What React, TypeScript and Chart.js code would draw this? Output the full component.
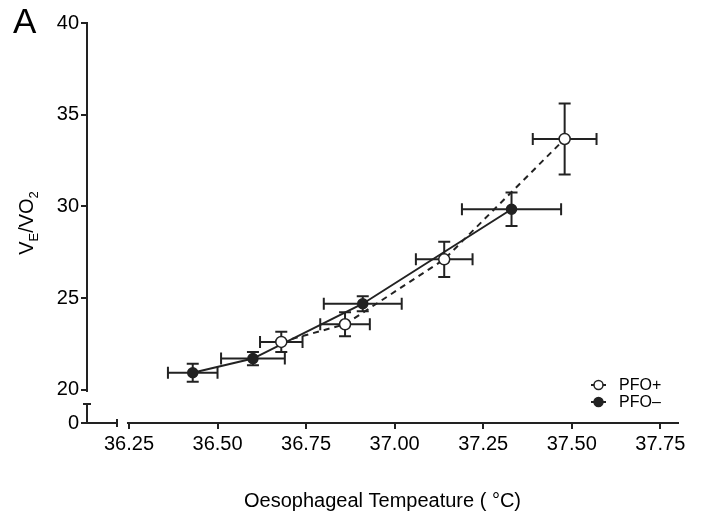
import React, { useEffect, useRef } from "react";
import { Chart, registerables } from "chart.js";

Chart.register(...registerables);

// ---- data ----
const xTicks = [36.25, 36.5, 36.75, 37.0, 37.25, 37.5, 37.75];
const yTicks = [20, 25, 30, 35, 40];
const yBreakValue = 18.2; // position shown as "0" below the axis break
const xMin = 36.1315;
const xMax = 37.8;

const pfoPlusX = [36.68, 36.86, 37.14, 37.48];
const pfoPlusY = [22.62, 23.58, 27.12, 33.68];
const pfoPlusXErr = [0.06, 0.07, 0.08, 0.09];
const pfoPlusYErr = [0.55, 0.65, 0.96, 1.93];

const pfoMinusX = [36.43, 36.6, 36.91, 37.33];
const pfoMinusY = [20.94, 21.71, 24.7, 29.85];
const pfoMinusXErr = [0.07, 0.09, 0.11, 0.14];
const pfoMinusYErr = [0.49, 0.36, 0.41, 0.91];

const INK = "#222222";
const FONT = "'Liberation Sans', Arial, Helvetica, sans-serif";

const toPts = (xs: number[], ys: number[]) => xs.map((x, i) => ({ x, y: ys[i] }));

const errorBarPlugin = {
  id: "errorBars",
  beforeDatasetsDraw(chart: any) {
    const { ctx, scales } = chart;
    const xs = scales.x;
    const ys = scales.y;
    const cap = 6;
    const groups = [
      [pfoPlusX, pfoPlusY, pfoPlusXErr, pfoPlusYErr],
      [pfoMinusX, pfoMinusY, pfoMinusXErr, pfoMinusYErr],
    ];
    ctx.save();
    ctx.strokeStyle = INK;
    ctx.lineWidth = 2;
    ctx.setLineDash([]);
    for (const [gx, gy, ex, ey] of groups) {
      gx.forEach((xv: number, i: number) => {
        const yv = gy[i];
        const px = xs.getPixelForValue(xv);
        const py = ys.getPixelForValue(yv);
        const x1 = xs.getPixelForValue(xv - ex[i]);
        const x2 = xs.getPixelForValue(xv + ex[i]);
        const y1 = ys.getPixelForValue(yv - ey[i]);
        const y2 = ys.getPixelForValue(yv + ey[i]);
        ctx.beginPath();
        ctx.moveTo(x1, py);
        ctx.lineTo(x2, py);
        ctx.moveTo(x1, py - cap);
        ctx.lineTo(x1, py + cap);
        ctx.moveTo(x2, py - cap);
        ctx.lineTo(x2, py + cap);
        ctx.moveTo(px, y1);
        ctx.lineTo(px, y2);
        ctx.moveTo(px - cap, y1);
        ctx.lineTo(px + cap, y1);
        ctx.moveTo(px - cap, y2);
        ctx.lineTo(px + cap, y2);
        ctx.stroke();
      });
    }
    ctx.restore();
  },
};

const decorPlugin = {
  id: "decor",
  afterDraw(chart: any) {
    const { ctx, scales, chartArea } = chart;
    const xs = scales.x;
    const ys = scales.y;
    const left = chartArea.left;
    const bottom = chartArea.bottom;
    const y20 = ys.getPixelForValue(20);
    const x3625 = xs.getPixelForValue(36.25);
    ctx.save();
    // axis breaks
    ctx.fillStyle = "#ffffff";
    ctx.fillRect(left - 4, y20 + 2, 8, bottom - 19 - (y20 + 2));
    ctx.fillRect(left + 31, bottom - 4, x3625 - 2 - (left + 31), 8);
    ctx.strokeStyle = INK;
    ctx.lineWidth = 2;
    ctx.beginPath();
    ctx.moveTo(left - 4, bottom - 19);
    ctx.lineTo(left + 4, bottom - 19);
    ctx.moveTo(left + 30, bottom - 4);
    ctx.lineTo(left + 30, bottom + 4);
    ctx.stroke();

    // panel letter
    ctx.fillStyle = "#000";
    ctx.textAlign = "left";
    ctx.textBaseline = "alphabetic";
    ctx.font = `35px ${FONT}`;
    ctx.fillText("A", 13, 33);

    // x title
    ctx.font = `20px ${FONT}`;
    ctx.textAlign = "center";
    ctx.fillText("Oesophageal Tempeature ( °C)", (chartArea.left + chartArea.right) / 2, 507);

    // y title with subscripts
    const cy = (chartArea.top + chartArea.bottom) / 2;
    ctx.translate(33, cy);
    ctx.rotate(-Math.PI / 2);
    const parts: [string, boolean][] = [
      ["V", false],
      ["E", true],
      ["/VO", false],
      ["2", true],
    ];
    const big = `20px ${FONT}`;
    const small = `13px ${FONT}`;
    let total = 0;
    for (const [t, sub] of parts) {
      ctx.font = sub ? small : big;
      total += ctx.measureText(t).width;
    }
    let cx = -total / 2;
    ctx.textAlign = "left";
    for (const [t, sub] of parts) {
      ctx.font = sub ? small : big;
      ctx.fillText(t, cx, sub ? 5 : 0);
      cx += ctx.measureText(t).width;
    }
    ctx.setTransform(1, 0, 0, 1, 0, 0);

    // legend
    const items: [string, boolean, number][] = [
      ["PFO+", false, 385],
      ["PFO\u2013", true, 402],
    ];
    for (const [label, filled, y] of items) {
      ctx.strokeStyle = INK;
      ctx.lineWidth = 2;
      ctx.beginPath();
      ctx.moveTo(591, y);
      ctx.lineTo(606, y);
      ctx.stroke();
      ctx.beginPath();
      ctx.arc(598.5, y, 4.5, 0, Math.PI * 2);
      ctx.fillStyle = filled ? INK : "#fff";
      ctx.fill();
      ctx.lineWidth = 1.5;
      ctx.stroke();
      ctx.fillStyle = "#000";
      ctx.font = `16px ${FONT}`;
      ctx.textAlign = "left";
      ctx.textBaseline = "middle";
      ctx.fillText(label, 619, y + 1);
    }
    ctx.restore();
  },
};

export default function App() {
  const ref = useRef<HTMLCanvasElement | null>(null);
  useEffect(() => {
    document.body.style.margin = "0";
    if (!ref.current) return;
    const chart = new Chart(ref.current, {
      type: "line",
      data: {
        datasets: [
          {
            label: "PFO+",
            data: toPts(pfoPlusX, pfoPlusY),
            borderColor: INK,
            borderWidth: 2,
            borderDash: [6, 5],
            pointRadius: 5.5,
            pointBorderWidth: 1.5,
            pointBackgroundColor: "#ffffff",
            pointBorderColor: INK,
            tension: 0,
            fill: false,
          },
          {
            label: "PFO\u2013",
            data: toPts(pfoMinusX, pfoMinusY),
            borderColor: INK,
            borderWidth: 2,
            pointRadius: 5,
            pointBorderWidth: 1.5,
            pointBackgroundColor: INK,
            pointBorderColor: INK,
            tension: 0,
            fill: false,
          },
        ],
      },
      options: {
        responsive: false,
        animation: false,
        layout: { padding: { left: 0, top: 23, right: 30, bottom: 0 } },
        plugins: { legend: { display: false }, tooltip: { enabled: false } },
        scales: {
          x: {
            type: "linear",
            min: xMin,
            max: xMax,
            afterBuildTicks: (s: any) => {
              s.ticks = xTicks.map((v) => ({ value: v }));
            },
            afterFit: (s: any) => {
              s.height = 96;
            },
            ticks: {
              callback: (v: any) => Number(v).toFixed(2),
              color: "#000",
              font: { family: FONT, size: 20 },
              padding: 3,
              maxRotation: 0,
              autoSkip: false,
            },
            grid: { drawOnChartArea: false, drawTicks: true, tickLength: 6, color: INK, lineWidth: 2 },
            border: { display: true, color: INK, width: 2 },
          },
          y: {
            type: "linear",
            min: yBreakValue,
            max: 40,
            afterBuildTicks: (s: any) => {
              s.ticks = [yBreakValue, ...yTicks].map((v) => ({ value: v }));
            },
            afterFit: (s: any) => {
              s.width = 87;
            },
            ticks: {
              callback: (v: any) => (Number(v) === yBreakValue ? "0" : String(v)),
              color: "#000",
              font: { family: FONT, size: 20 },
              padding: 2,
              autoSkip: false,
            },
            grid: { drawOnChartArea: false, drawTicks: true, tickLength: 6, color: INK, lineWidth: 2 },
            border: { display: true, color: INK, width: 2 },
          },
        },
      },
      plugins: [errorBarPlugin, decorPlugin],
    });
    return () => chart.destroy();
  }, []);
  return (
    <div style={{ position: "fixed", left: 0, top: 0, width: 708, height: 519, background: "#fff" }}>
      <canvas ref={ref} width={708} height={519} style={{ display: "block" }} />
    </div>
  );
}
